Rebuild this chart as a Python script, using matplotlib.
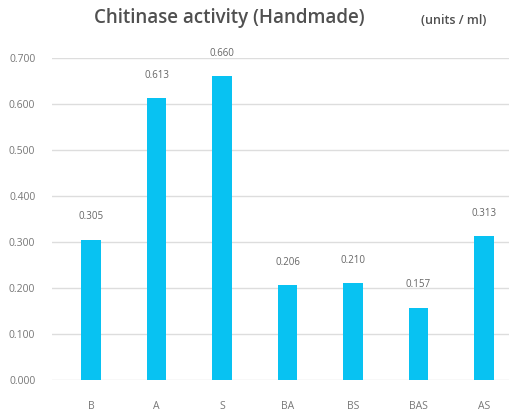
import matplotlib.pyplot as plt
import numpy as np

labels = ['B', 'A', 'S', 'BA', 'BS', 'BAS', 'AS']
activity = [0.305, 0.613, 0.660, 0.206, 0.210, 0.157, 0.313]
yticks = [0.0, 0.1, 0.2, 0.3, 0.4, 0.5, 0.6, 0.7]

plt.rcParams['font.family'] = ['Open Sans', 'DejaVu Sans']

fig = plt.figure(figsize=(5.10, 4.12), dpi=100)
ax = fig.add_axes([52 / 510, 32 / 412, 458 / 510, 322 / 412])

x = np.arange(len(labels))
ax.bar(x, activity, 0.3, color='#08c2f2', zorder=2)

for xi, v in zip(x, activity):
    ax.text(xi, v + 0.038, '%.3f' % v, ha='center', va='bottom',
            fontsize=7, color='#666666', clip_on=False)

ax.set_xlim(-0.6, 6.4)
ax.set_ylim(0, 0.7)
ax.set_yticks(yticks)
ax.set_yticklabels(['%.3f' % t for t in yticks])
ax.set_xticks(x, labels)
ax.grid(axis='y', color='#dddddd', linewidth=1, zorder=0)
for s in ax.spines.values():
    s.set_visible(False)
ax.tick_params(length=0, labelsize=7.5, colors='#777777')
ax.tick_params(axis='x', pad=15)
ax.tick_params(axis='y', pad=12)

fig.text(229 / 510, 1 - 18 / 412, 'Chitinase activity (Handmade)', ha='center',
         va='center', fontsize=13.5, fontweight='semibold', color='#505050')
fig.text(454 / 510, 1 - 21 / 412, '(units / ml)', ha='center', va='center',
         fontsize=9, fontweight='semibold', color='#505050')

plt.savefig('out.png')
